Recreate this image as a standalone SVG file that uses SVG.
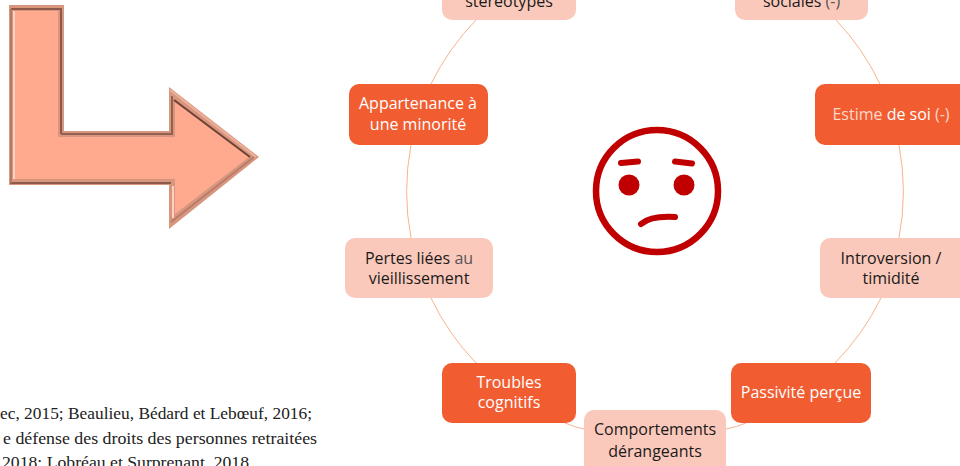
<svg xmlns="http://www.w3.org/2000/svg" width="960" height="466" viewBox="0 0 960 466">
<defs><filter id="flou" x="-5%" y="-5%" width="110%" height="110%"><feGaussianBlur stdDeviation="0.6"/></filter></defs>
<style>
.n{font-family:"Open Sans","Noto Sans",sans-serif;font-size:16px;text-anchor:middle}
.d{fill:#f15c30}.l{fill:#fbc9bb}
.w{fill:#fff}.k{fill:#1a1a1a}.p{fill:#fdd8cc}.g{fill:#555}
.c{fill:none;stroke:#f6b48f;stroke-width:1}
.f{font-family:"Liberation Serif",serif;font-size:16px;fill:#222}
.fc{fill:none;stroke:#c00000;stroke-linecap:round}
.b{fill:none;stroke-width:2}
</style>
<g id="fleche" filter="url(#flou)">
<polygon points="9,5 64,5 64,131 169,131 169,87 259,157 169,229 169,185 9,185" fill="#d8967f"/>
<polygon points="15,11 58,11 58,137 175,137 175,102 249,157 175,214 175,179 15,179" fill="#ffa98f"/>
<path class="b" d="M11,9H61V134" stroke="#8c5a4b"/>
<path class="b" d="M61,134H172V96" stroke="#94604f"/>
<path class="b" d="M174,100L250,157" stroke="#6f4336"/>
<path class="b" d="M10,183H171" stroke="#8c5a4b"/>
<path class="b" d="M171,222L254,157" stroke="#b87c68"/>
<path class="b" d="M11,9V183" stroke="#b57a66"/>
<path class="b" d="M14,11V179M173,186V218" stroke="#ffd2c0"/>
<path class="b" d="M170,90L256,157" stroke="#eeb09a"/>
</g>
<g id="connecteurs">
<path class="c" d="M431,84A249,249 0 0 1 476,20"/>
<path class="c" d="M836,20A249,249 0 0 1 880,84"/>
<path class="c" d="M899,145A249,249 0 0 1 899,238"/>
<path class="c" d="M881,298A249,249 0 0 1 835,363"/>
<path class="c" d="M746,423Q737,427 726,429"/>
<path class="c" d="M565,423Q574,427 584,429"/>
<path class="c" d="M476,363A249,249 0 0 1 431,298"/>
<path class="c" d="M411,238A249,249 0 0 1 411,145"/>
</g>
<g id="stereotypes"><rect class="l" x="442" y="-40" width="134" height="60" rx="10"/><text class="n k" x="509" y="7">stéréotypes</text></g>
<g id="sociales"><rect class="l" x="735" y="-40" width="133" height="60" rx="10"/><text class="n k" x="801.500" y="7">sociales <tspan class="g">(-)</tspan></text></g>
<g id="estime"><rect class="d" x="815" y="84" width="160" height="61" rx="10"/><text class="n" x="891" y="120"><tspan class="p">Estime</tspan> <tspan class="w">de soi</tspan> <tspan class="p">(-)</tspan></text></g>
<g id="appartenance"><rect class="d" x="349" y="84" width="139" height="61" rx="10"/><text class="n w" x="418" y="109">Appartenance à</text><text class="n w" x="418" y="130">une minorité</text></g>
<g id="pertes"><rect class="l" x="345" y="238" width="148" height="60" rx="10"/><text class="n k" x="419" y="264">Pertes liées <tspan class="g">au</tspan></text><text class="n k" x="419" y="284">vieillissement</text></g>
<g id="introversion"><rect class="l" x="820" y="238" width="155" height="60" rx="10"/><text class="n k" x="891" y="264">Introversion /</text><text class="n k" x="891" y="284">timidité</text></g>
<g id="troubles"><rect class="d" x="442" y="363" width="134" height="60" rx="10"/><text class="n w" x="509" y="388">Troubles</text><text class="n w" x="509" y="408">cognitifs</text></g>
<g id="passivite"><rect class="d" x="731" y="363" width="140" height="60" rx="10"/><text class="n w" x="801" y="398">Passivité perçue</text></g>
<g id="comportements"><rect class="l" x="584" y="410" width="142" height="66" rx="10"/><text class="n k" x="655" y="435">Comportements</text><text class="n k" x="655" y="457">dérangeants</text></g>
<g id="visage">
<circle cx="657" cy="191" r="61" fill="#fff" stroke="#c00000" stroke-width="6.500"/>
<circle cx="629" cy="185" r="10.500" fill="#c00000"/>
<circle cx="684" cy="185" r="10.500" fill="#c00000"/>
<path class="fc" stroke-width="6" d="M621,163L638,161.500M675,161.500L692,163.500"/>
<path class="fc" stroke-width="6" d="M641,224C648,218 658,216 675,217"/>
</g>
<g id="references">
<text class="f" x="0" y="419" textLength="312" lengthAdjust="spacingAndGlyphs">ec, 2015; Beaulieu, Bédard et Lebœuf, 2016;</text>
<text class="f" x="3" y="444" textLength="314" lengthAdjust="spacingAndGlyphs">e défense des droits des personnes retraitées</text>
<text class="f" x="2" y="468" textLength="247" lengthAdjust="spacingAndGlyphs">2018; Lobréau et Surprenant, 2018</text>
</g>
</svg>
